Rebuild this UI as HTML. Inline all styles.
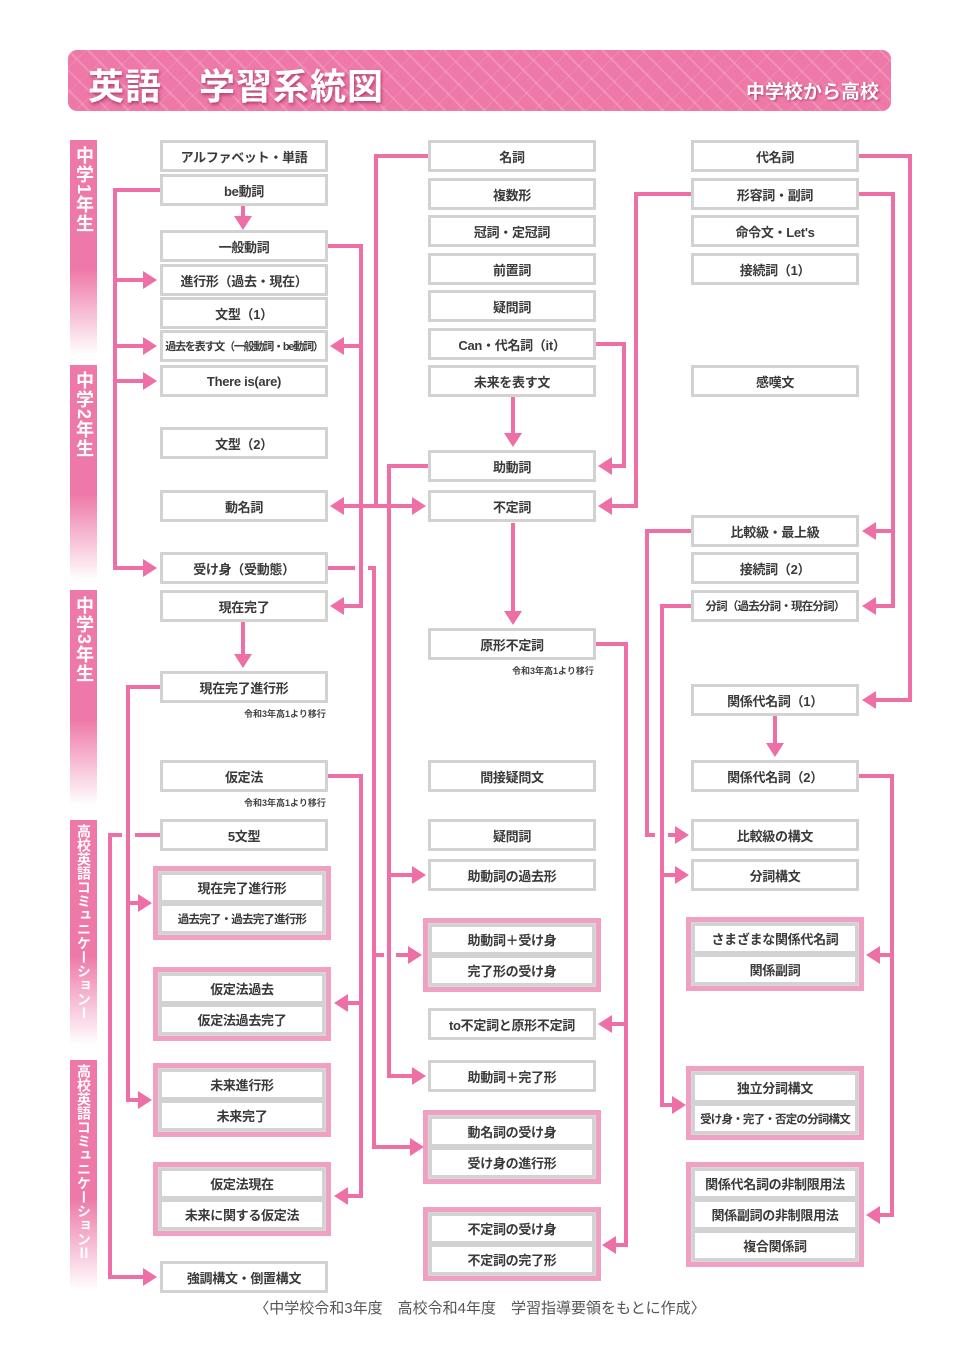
<!DOCTYPE html>
<html><head><meta charset="utf-8">
<style>
*{margin:0;padding:0;box-sizing:border-box}
body{width:960px;height:1356px;background:#fff;position:relative;overflow:hidden;font-family:"Liberation Sans","Noto Sans CJK JP",sans-serif;color:#3a3a3a}
.hdr{position:absolute;left:68px;top:50px;width:823px;height:61px;border-radius:9px;background:#ee78a8;background-image:repeating-linear-gradient(45deg,rgba(255,255,255,.18) 0 2px,transparent 2px 14px),repeating-linear-gradient(-45deg,rgba(255,255,255,.12) 0 1px,transparent 1px 18px)}
.t1{position:absolute;left:20px;top:8px;font-size:36px;font-weight:bold;color:#fff;letter-spacing:1px;text-shadow:1px 2px 3px rgba(120,0,50,.5);white-space:pre}
.t2{position:absolute;right:12px;top:27px;font-size:19px;font-weight:bold;color:#fff;text-shadow:1px 1px 2px rgba(120,0,50,.5)}
.band{position:absolute;left:70px;width:27px;background:linear-gradient(#ee78a8 0%,#ee78a8 60%,#fff 100%);color:#fff;font-weight:bold;font-size:18px;writing-mode:vertical-rl;text-align:start;padding-top:6px;line-height:27px;letter-spacing:1px}
.band.s{font-size:14px;letter-spacing:0;padding-top:4px}
.b{position:absolute;width:168px;height:32px;border:3px solid #d2d2d2;background:#fff;font-size:13px;font-weight:bold;display:flex;align-items:center;justify-content:center;white-space:nowrap;letter-spacing:-0.3px}
.g{position:absolute;width:178px;border:5px solid #f0a0c2;background:#d8d8d8;padding:1px}
.g div{height:31px;border:3px solid #d2d2d2;background:#fff;font-size:13px;font-weight:bold;display:flex;align-items:center;justify-content:center;white-space:nowrap;letter-spacing:-0.3px}
.n{font-size:11.5px!important;letter-spacing:-0.8px!important}
.note{position:absolute;font-size:9px;font-weight:bold;color:#444}
.foot{position:absolute;left:0;width:960px;top:1297px;text-align:center;font-size:15px;color:#555}
svg{position:absolute;left:0;top:0}
</style></head><body>
<div class="hdr"><div class="t1">英語　学習系統図</div><div class="t2">中学校から高校</div></div>

<div class="band" style="top:140px;height:215px">中学1年生</div>
<div class="band" style="top:365px;height:215px">中学2年生</div>
<div class="band" style="top:590px;height:215px">中学3年生</div>
<div class="band s" style="top:820px;height:225px">高校英語コミュニケーションⅠ</div>
<div class="band s" style="top:1060px;height:230px">高校英語コミュニケーションⅡ</div>

<svg width="960" height="1356" viewBox="0 0 960 1356">
<g fill="none" stroke="#ee6fa5" stroke-width="4">
<path d="M160 190H115V568H145M115 280H145M115 346H145M115 381H145"/>
<path d="M243 206V220"/>
<path d="M327 246H361V606H342M361 346H342"/>
<path d="M428 156H376V506M342 506H414"/>
<path d="M327 568H355M368 568H374V1147H412M374 955H384M396 955H410"/>
<path d="M428 466H389V1076H414M389 875H414"/>
<path d="M513 397V435"/>
<path d="M596 344H624V466H610"/>
<path d="M691 194H636V506H610"/>
<path d="M513 523V612"/>
<path d="M596 644H626V1245H614M626 1024H610"/>
<path d="M243 622V656"/>
<path d="M160 687H128V1100H140M128 903H140"/>
<path d="M327 776H361V1196H346M361 1003H346"/>
<path d="M160 835H135M122 835H110V1277H145"/>
<path d="M859 156H910V700H874"/>
<path d="M859 194H893V606H874M893 531H874"/>
<path d="M691 531H647V835H655M668 835H677"/>
<path d="M691 606H662V1105H674M662 875H677"/>
<path d="M775 716V745"/>
<path d="M859 776H892V1215H878M892 955H878"/>
</g>
<g fill="#ee6fa5">
<polygon points="143,271 157,280 143,289"/><polygon points="143,337 157,346 143,355"/><polygon points="143,372 157,381 143,390"/><polygon points="143,559 157,568 143,577"/>
<polygon points="234,216 243,230 252,216"/>
<polygon points="344,337 330,346 344,355"/><polygon points="344,597 330,606 344,615"/>
<polygon points="344,497 330,506 344,515"/><polygon points="412,497 426,506 412,515"/>
<polygon points="410,1138 424,1147 410,1156"/><polygon points="408,946 422,955 408,964"/>
<polygon points="412,866 426,875 412,884"/><polygon points="412,1067 426,1076 412,1085"/>
<polygon points="504,433 513,447 522,433"/>
<polygon points="612,457 598,466 612,475"/><polygon points="612,497 598,506 612,515"/>
<polygon points="504,611 513,625 522,611"/>
<polygon points="612,1015 598,1024 612,1033"/><polygon points="616,1236 602,1245 616,1254"/>
<polygon points="234,654 243,668 252,654"/>
<polygon points="138,894 152,903 138,912"/><polygon points="138,1091 152,1100 138,1109"/>
<polygon points="348,994 334,1003 348,1012"/><polygon points="348,1187 334,1196 348,1205"/>
<polygon points="143,1268 157,1277 143,1286"/>
<polygon points="876,691 862,700 876,709"/>
<polygon points="876,522 862,531 876,540"/><polygon points="876,597 862,606 876,615"/>
<polygon points="675,826 689,835 675,844"/><polygon points="675,866 689,875 675,884"/><polygon points="672,1096 686,1105 672,1114"/>
<polygon points="766,743 775,757 784,743"/>
<polygon points="880,946 866,955 880,964"/><polygon points="880,1206 866,1215 880,1224"/>
</g>
</svg>

<!-- left column -->
<div class="b" style="left:160px;top:140px">アルファベット・単語</div>
<div class="b" style="left:160px;top:174px">be動詞</div>
<div class="b" style="left:160px;top:230px">一般動詞</div>
<div class="b" style="left:160px;top:264px">進行形（過去・現在）</div>
<div class="b" style="left:160px;top:297px">文型（1）</div>
<div class="b n" style="left:160px;top:330px;letter-spacing:-1.2px!important;font-size:11px!important">過去を表す文（一般動詞・be動詞）</div>
<div class="b" style="left:160px;top:365px">There is(are)</div>
<div class="b" style="left:160px;top:427px">文型（2）</div>
<div class="b" style="left:160px;top:490px">動名詞</div>
<div class="b" style="left:160px;top:552px">受け身（受動態）</div>
<div class="b" style="left:160px;top:590px">現在完了</div>
<div class="b" style="left:160px;top:671px">現在完了進行形</div>
<div class="note" style="left:244px;top:707px">令和3年高1より移行</div>
<div class="b" style="left:160px;top:760px">仮定法</div>
<div class="note" style="left:244px;top:796px">令和3年高1より移行</div>
<div class="b" style="left:160px;top:819px">5文型</div>
<div class="g" style="left:153px;top:866px"><div>現在完了進行形</div><div class="n">過去完了・過去完了進行形</div></div>
<div class="g" style="left:153px;top:967px"><div>仮定法過去</div><div>仮定法過去完了</div></div>
<div class="g" style="left:153px;top:1063px"><div>未来進行形</div><div>未来完了</div></div>
<div class="g" style="left:153px;top:1162px"><div>仮定法現在</div><div>未来に関する仮定法</div></div>
<div class="b" style="left:160px;top:1261px">強調構文・倒置構文</div>

<!-- middle column -->
<div class="b" style="left:428px;top:140px">名詞</div>
<div class="b" style="left:428px;top:178px">複数形</div>
<div class="b" style="left:428px;top:215px">冠詞・定冠詞</div>
<div class="b" style="left:428px;top:253px">前置詞</div>
<div class="b" style="left:428px;top:290px">疑問詞</div>
<div class="b" style="left:428px;top:328px">Can・代名詞（it）</div>
<div class="b" style="left:428px;top:365px">未来を表す文</div>
<div class="b" style="left:428px;top:450px">助動詞</div>
<div class="b" style="left:428px;top:490px">不定詞</div>
<div class="b" style="left:428px;top:628px">原形不定詞</div>
<div class="note" style="left:512px;top:664px">令和3年高1より移行</div>
<div class="b" style="left:428px;top:760px">間接疑問文</div>
<div class="b" style="left:428px;top:819px">疑問詞</div>
<div class="b" style="left:428px;top:859px">助動詞の過去形</div>
<div class="g" style="left:423px;top:918px"><div>助動詞＋受け身</div><div>完了形の受け身</div></div>
<div class="b" style="left:428px;top:1008px">to不定詞と原形不定詞</div>
<div class="b" style="left:428px;top:1060px">助動詞＋完了形</div>
<div class="g" style="left:423px;top:1110px"><div>動名詞の受け身</div><div>受け身の進行形</div></div>
<div class="g" style="left:423px;top:1207px"><div>不定詞の受け身</div><div>不定詞の完了形</div></div>

<!-- right column -->
<div class="b" style="left:691px;top:140px">代名詞</div>
<div class="b" style="left:691px;top:178px">形容詞・副詞</div>
<div class="b" style="left:691px;top:215px">命令文・Let's</div>
<div class="b" style="left:691px;top:253px">接続詞（1）</div>
<div class="b" style="left:691px;top:365px">感嘆文</div>
<div class="b" style="left:691px;top:515px">比較級・最上級</div>
<div class="b" style="left:691px;top:552px">接続詞（2）</div>
<div class="b n" style="left:691px;top:590px">分詞（過去分詞・現在分詞）</div>
<div class="b" style="left:691px;top:684px">関係代名詞（1）</div>
<div class="b" style="left:691px;top:760px">関係代名詞（2）</div>
<div class="b" style="left:691px;top:819px">比較級の構文</div>
<div class="b" style="left:691px;top:859px">分詞構文</div>
<div class="g" style="left:686px;top:917px"><div>さまざまな関係代名詞</div><div>関係副詞</div></div>
<div class="g" style="left:686px;top:1066px"><div>独立分詞構文</div><div class="n">受け身・完了・否定の分詞構文</div></div>
<div class="g" style="left:686px;top:1162px"><div>関係代名詞の非制限用法</div><div>関係副詞の非制限用法</div><div>複合関係詞</div></div>

<div class="foot">〈中学校令和3年度　高校令和4年度　学習指導要領をもとに作成〉</div>
</body></html>
